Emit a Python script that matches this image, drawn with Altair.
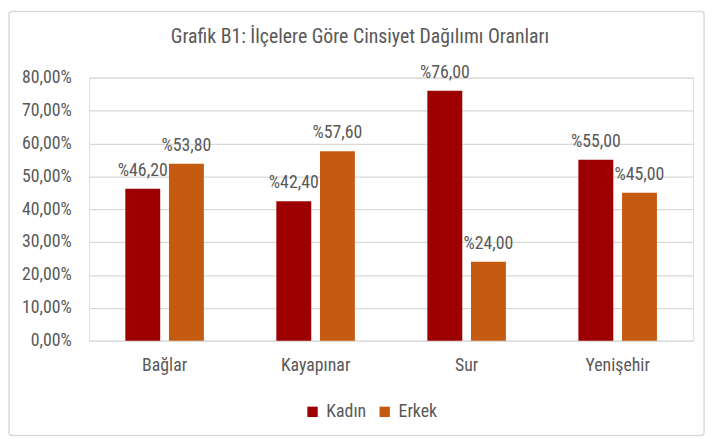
import altair as alt
import pandas as pd

categories = ["Bağlar", "Kayapınar", "Sur", "Yenişehir"]
kadin = [46.2, 42.4, 76.0, 55.0]
erkek = [53.8, 57.6, 24.0, 45.0]
series = ["Kadın", "Erkek"]
y_ticks = [0, 10, 20, 30, 40, 50, 60, 70, 80]
title_text = "Grafik B1: İlçelere Göre Cinsiyet Dağılımı Oranları"

rows = []
for c, k, e in zip(categories, kadin, erkek):
    rows.append({"ilce": c, "cinsiyet": "Kadın", "oran": k})
    rows.append({"ilce": c, "cinsiyet": "Erkek", "oran": e})
df = pd.DataFrame(rows)
df["etiket"] = df["oran"].map(lambda v: "%" + f"{v:.2f}".replace(".", ","))

FONT = "Liberation Sans Narrow, Arial Narrow, Roboto Condensed, Roboto, sans-serif"
TXT = "#595959"
colors = ["#9C0000", "#C55A11"]

x_enc = alt.X("ilce:N", sort=categories, title=None,
              scale=alt.Scale(paddingInner=0.48, paddingOuter=0.24),
              axis=alt.Axis(domain=False, ticks=False, tickSize=0, labelAngle=0,
                            labelFontSize=18, labelColor=TXT, labelFont=FONT,
                            labelPadding=16))
xo_enc = alt.XOffset("cinsiyet:N", sort=series, scale=alt.Scale(paddingInner=0.2))
y_enc = alt.Y("oran:Q", title=None,
              scale=alt.Scale(domain=[0, 80], nice=False),
              axis=alt.Axis(values=y_ticks, domain=False, ticks=False, tickSize=0,
                            labelExpr="replace(format(datum.value, '.2f'), '.', ',') + '%'",
                            labelFontSize=18, labelColor=TXT, labelFont=FONT,
                            labelPadding=18, grid=True, gridColor="#D9D9D9",
                            gridWidth=1.3))

base = alt.Chart(df)
bars = base.mark_bar().encode(
    x=x_enc, xOffset=xo_enc, y=y_enc,
    color=alt.Color("cinsiyet:N", sort=series,
                    scale=alt.Scale(domain=series, range=colors),
                    legend=alt.Legend(title=None, orient="none", direction="horizontal",
                                      legendX=217, legendY=329,
                                      symbolType="square", symbolSize=110,
                                      symbolStrokeWidth=0,
                                      labelFontSize=18, labelColor=TXT, labelFont=FONT,
                                      labelOffset=5, columnPadding=9, padding=0)),
)
labels = base.mark_text(baseline="alphabetic", dy=-13, fontSize=18, color=TXT,
                        font=FONT).encode(
    x=x_enc, xOffset=xo_enc, y=y_enc, text="etiket:N")

deco = pd.DataFrame({"t": [title_text]})
border = alt.Chart(deco).mark_rect(
    fill=None, stroke="#D9D9D9", strokeWidth=1.5, cornerRadius=3
).encode(x=alt.value(-81), x2=alt.value(622), y=alt.value(-67), y2=alt.value(362))
title = alt.Chart(deco).mark_text(
    fontSize=20, font=FONT, color=TXT, baseline="alphabetic", align="center"
).encode(x=alt.value(274), y=alt.value(-35), text="t:N")

chart = alt.layer(border, bars, labels, title).properties(
    width=611, height=266,
    autosize=alt.AutoSizeParams(type="none"),
    padding={"left": 82, "top": 68, "right": 15, "bottom": 97},
).configure_view(stroke=None).configure(background="white")

chart.save("out.html", embed_options={"renderer": "svg", "actions": False})
